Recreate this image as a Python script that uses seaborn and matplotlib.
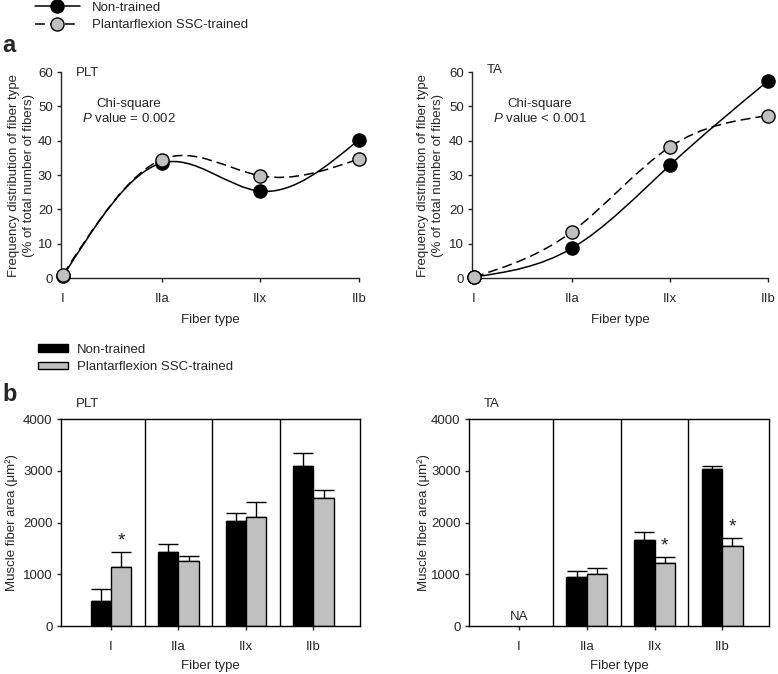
import numpy as np
import pandas as pd
import matplotlib
matplotlib.use("Agg")
import matplotlib.pyplot as plt
import seaborn as sns
from matplotlib.path import Path
from matplotlib.patches import PathPatch, Patch
from matplotlib.lines import Line2D

# data
fibers = ["I", "IIa", "IIx", "IIb"]
groups = ["Non-trained", "Plantarflexion SSC-trained"]

# panel a: frequency distribution (% of fibers)
plt_freq_non = [0.5, 33.5, 25.3, 40.3]
plt_freq_ssc = [1.0, 34.5, 29.8, 34.7]
ta_freq_non = [0.3, 8.7, 32.9, 57.4]
ta_freq_ssc = [0.3, 13.5, 38.2, 47.3]

# panel b: muscle fiber area (um^2), mean and SE
plt_area_non = [480, 1430, 2030, 3090]
plt_area_ssc = [1140, 1250, 2115, 2465]
plt_err_non = [230, 150, 150, 250]
plt_err_ssc = [290, 105, 290, 170]
ta_area_non = [np.nan, 945, 1670, 3040]
ta_area_ssc = [np.nan, 1005, 1210, 1555]
ta_err_non = [np.nan, 115, 150, 60]
ta_err_ssc = [np.nan, 115, 115, 140]
plt_sig = [True, False, False, False]
ta_sig = [False, False, True, True]

BLACK = "black"
GRAY = "#c0c0c0"
FS = 9.5

sns.set_theme(style="ticks")
plt.rcParams["font.family"] = ["Liberation Sans", "DejaVu Sans"]
plt.rcParams["mathtext.fontset"] = "custom"
plt.rcParams["mathtext.rm"] = "Liberation Sans"
plt.rcParams["mathtext.it"] = "Liberation Sans:italic"
plt.rcParams["axes.linewidth"] = 1.0
plt.rcParams["xtick.major.size"] = 3
plt.rcParams["ytick.major.size"] = 3
plt.rcParams["xtick.major.width"] = 1
plt.rcParams["ytick.major.width"] = 1

fig = plt.figure(figsize=(7.78, 6.74), dpi=100)
ax_a1 = fig.add_axes([0.0784, 0.5875, 0.383, 0.3056])
ax_a2 = fig.add_axes([0.6067, 0.5875, 0.3805, 0.3056])
ax_b1 = fig.add_axes([0.0784, 0.0712, 0.3843, 0.3071])
ax_b2 = fig.add_axes([0.6028, 0.0712, 0.3856, 0.3071])


def spline_path(ys):
    # natural cubic spline through the points, as bezier segments
    n = len(ys)
    A = np.zeros((n, n))
    b = np.zeros(n)
    A[0, 0] = A[-1, -1] = 1
    for i in range(1, n - 1):
        A[i, i - 1:i + 2] = [1, 4, 1]
        b[i] = 6 * (ys[i - 1] - 2 * ys[i] + ys[i + 1])
    M = np.linalg.solve(A, b)
    verts = [(0, ys[0])]
    codes = [Path.MOVETO]
    for i in range(n - 1):
        dy = ys[i + 1] - ys[i]
        d0 = dy - (2 * M[i] + M[i + 1]) / 6
        d1 = dy + (M[i] + 2 * M[i + 1]) / 6
        verts += [(i + 1 / 3, ys[i] + d0 / 3), (i + 2 / 3, ys[i + 1] - d1 / 3), (i + 1, ys[i + 1])]
        codes += [Path.CURVE4] * 3
    return Path(verts, codes)


DASH = (0, (6.5, 3.3))


def freq_panel(ax, non, ssc, name, name_y, ptext):
    pos = np.arange(len(fibers))
    ax.add_patch(PathPatch(spline_path(non), facecolor="none", edgecolor=BLACK, lw=1.1, zorder=2))
    ax.add_patch(PathPatch(spline_path(ssc), facecolor="none", edgecolor=BLACK, lw=1.1,
                           linestyle=DASH, zorder=2))
    sns.scatterplot(x=pos, y=non, color=BLACK, edgecolor=BLACK, s=90, linewidth=1,
                    zorder=3, clip_on=False, ax=ax)
    sns.scatterplot(x=pos, y=ssc, color=GRAY, edgecolor=BLACK, s=90, linewidth=1,
                    zorder=4, clip_on=False, ax=ax)
    ax.set_xlim(-0.02, 3)
    ax.set_ylim(0, 60)
    ax.set_xticks(pos)
    ax.set_xticklabels(fibers)
    ax.set_yticks(range(0, 61, 10))
    ax.tick_params(labelsize=FS, pad=3)
    ax.tick_params(axis="x", pad=8)
    sns.despine(ax=ax)
    ax.set_xlabel("Fiber type", fontsize=FS, labelpad=6)
    ax.set_ylabel("Frequency distribution of fiber type\n(% of total number of fibers)",
                  fontsize=FS, linespacing=1.3)
    ax.text(0.13, name_y, name, fontsize=FS, va="center")
    ax.text(0.67, 48.5, "Chi-square\n$\\it{P}$ value " + ptext, fontsize=FS,
            ha="center", va="center", linespacing=1.25)


freq_panel(ax_a1, plt_freq_non, plt_freq_ssc, "PLT", 59.6, "= 0.002")
freq_panel(ax_a2, ta_freq_non, ta_freq_ssc, "TA", 60.6, "< 0.001")
ax_a1.yaxis.set_label_coords(-0.088, 0.5)
ax_a2.yaxis.set_label_coords(-0.094, 0.5)


def area_panel(ax, non, ssc, enon, essc, sig, name):
    df = pd.DataFrame({
        "fiber": fibers * 2,
        "group": [groups[0]] * 4 + [groups[1]] * 4,
        "area": list(non) + list(ssc),
    }).dropna()
    sns.barplot(data=df, x="fiber", y="area", hue="group", order=fibers, hue_order=groups,
                palette=[BLACK, GRAY], edgecolor=BLACK, linewidth=1, width=0.6,
                errorbar=None, legend=False, ax=ax, zorder=2)
    errs = [enon, essc]
    bar_sets = list(ax.containers)
    for gi, cont in enumerate(bar_sets):
        for bar in cont:
            h = bar.get_height()
            if not np.isfinite(h):
                continue
            xc = bar.get_x() + bar.get_width() / 2
            ci = int(round(xc))
            e = errs[gi][ci]
            ax.errorbar(xc, h, yerr=[[0], [e]], fmt="none", ecolor=BLACK, elinewidth=1,
                        capsize=7, capthick=1, zorder=1)
            if gi == 1 and sig[ci]:
                ax.annotate("*", (xc, h + e), xytext=(0, 2), textcoords="offset points",
                            ha="center", va="bottom", fontsize=14)
    for xv in [0.5, 1.5, 2.5]:
        ax.axvline(xv, color=BLACK, lw=1, zorder=1)
    ax.set_xlim(-0.74, 3.69)
    ax.set_ylim(0, 4000)
    ax.set_yticks(range(0, 4001, 1000))
    ax.tick_params(labelsize=FS, pad=3)
    ax.tick_params(axis="x", pad=8)
    for sp in ax.spines.values():
        sp.set_visible(True)
        sp.set_linewidth(1)
        sp.set_color(BLACK)
    ax.set_xlabel("Fiber type", fontsize=FS, labelpad=5)
    ax.set_ylabel("Muscle fiber area (μm²)", fontsize=FS)
    ax.text(0.05, 1.075, name, transform=ax.transAxes, fontsize=FS, va="center")


area_panel(ax_b1, plt_area_non, plt_area_ssc, plt_err_non, plt_err_ssc, plt_sig, "PLT")
area_panel(ax_b2, ta_area_non, ta_area_ssc, ta_err_non, ta_err_ssc, ta_sig, "TA")
ax_b2.text(0, 60, "NA", ha="center", va="bottom", fontsize=FS)
ax_b1.yaxis.set_label_coords(-0.144, 0.5)
ax_b2.yaxis.set_label_coords(-0.13, 0.5)

# legends
line_handles = [
    Line2D([], [], color=BLACK, lw=1.1, marker="o", markersize=9.4,
           markerfacecolor=BLACK, markeredgecolor=BLACK),
    Line2D([], [], color=BLACK, lw=1.1, linestyle=DASH, marker="o", markersize=9.4,
           markerfacecolor=GRAY, markeredgecolor=BLACK),
]
fig.legend(line_handles, groups, loc="upper left", bbox_to_anchor=(0.045, 0.998),
           frameon=False, fontsize=FS, handlelength=3.4, handletextpad=0.9,
           borderpad=0, borderaxespad=0, labelspacing=0.42)

bar_handles = [Patch(facecolor=BLACK, edgecolor=BLACK, lw=1),
               Patch(facecolor=GRAY, edgecolor=BLACK, lw=1)]
fig.legend(bar_handles, groups, loc="upper left", bbox_to_anchor=(0.0488, 0.49),
           frameon=False, fontsize=FS, handlelength=2.27, handleheight=0.53,
           handletextpad=0.68, borderpad=0, borderaxespad=0, labelspacing=0.42)

fig.text(0.003, 0.933, "a", fontsize=17, fontweight="bold", va="center")
fig.text(0.003, 0.414, "b", fontsize=17, fontweight="bold", va="center")

fig.savefig("out.png", dpi=100)
